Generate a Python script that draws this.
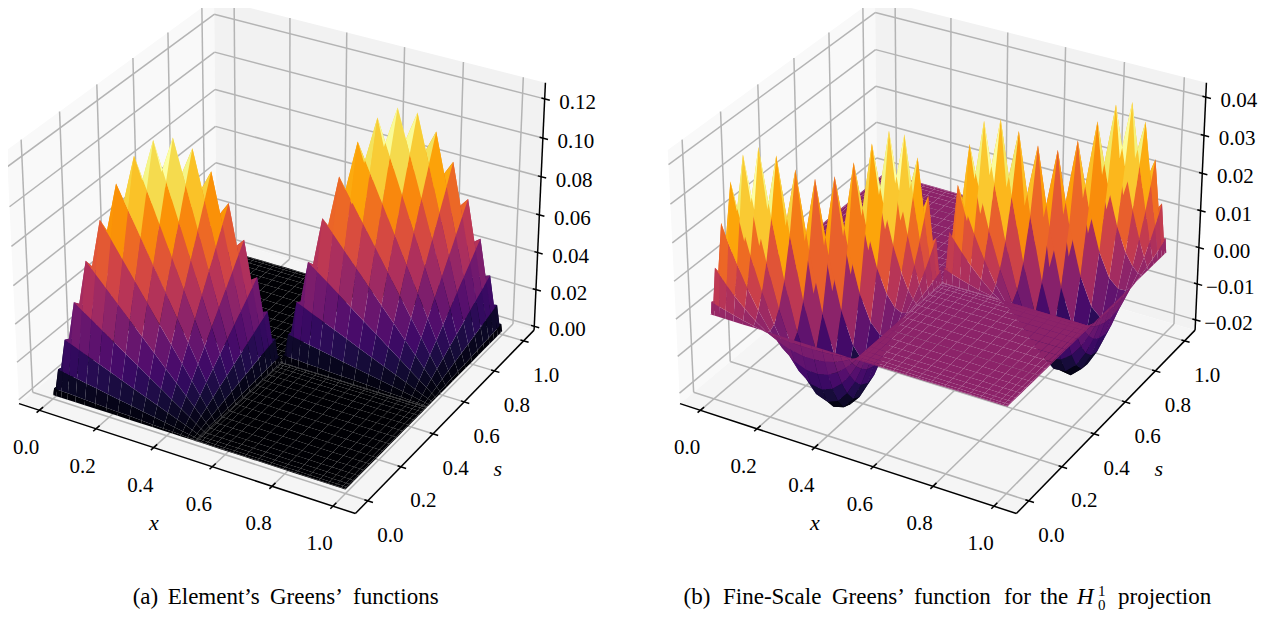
import numpy as np, pandas as pd, altair as alt
alt.data_transformers.disable_max_rows()

# grid nodes inside each element, read along the ridge of each hump
nodes_first = [0,.00341,.01355,.03013,.05272,.08068,.11326,.14958,.18863,.22936,.27064,.31137,.35042,.38674,.41932,.44728,.46987,.48645,.49659,.5]
nodes_second = [0,.0038,.01508,.03349,.05849,.0893,.125,.1645,.20659,.25,.29341,.3355,.375,.4107,.44151,.46651,.48492,.4962,.5]

# heights of each element's hump, in units of 1e-4 (rest follows from the two symmetries of the picture)
left_first = [
 [0,0,0,0,0,0,0,0,0,0,0,0,0,0,0,0,0,0,0,0],
 [34,33,32,31,29,26,24,21,18,16,13,10,8,6,4,2,1,0],
 [132,127,121,114,105,95,84,73,62,51,41,31,22,14,8,4],
 [283,270,253,233,211,188,163,138,114,90,68,49,32,18],
 [472,442,408,369,328,285,242,199,158,119,85,56],
 [677,624,565,502,437,370,304,241,183,130],
 [876,794,705,613,520,427,339,257],
 [1048,931,810,686,564,447],
 [1175,1021,865,712],
 [1241,1052],
]
left_second = [
 [0,0,0,0,0,0,0,0,0,0,0,0,0,0,0,0,0,0,0],
 [38,37,35,34,31,28,25,22,19,16,13,10,7,4,3,1,0],
 [146,141,133,124,113,101,88,75,62,50,38,27,18,10,5],
 [312,296,275,251,225,197,167,138,110,84,60,39,22],
 [516,480,439,392,343,292,242,192,146,104,68],
 [734,670,599,524,446,369,294,223,159],
 [938,839,734,625,516,411,312],
 [1104,965,822,680,541],
 [1212,1033,854],
 [1250],
]
right_first = [
 [0,0,0,0,0,0,0,0,0,0,0,0,0,0,0,0,0,0,0,0],
 [33,30,26,21,15,9,3,-3,-7,-10,-11,-11,-10,-8,-6,-4,-2,0],
 [121,105,84,60,36,12,-9,-25,-36,-42,-42,-39,-32,-23,-14,-7],
 [235,189,138,84,33,-12,-48,-73,-86,-88,-81,-66,-48,-30],
 [338,251,160,73,-4,-66,-109,-134,-139,-128,-106,-78],
 [402,268,140,26,-67,-134,-173,-184,-173,-144],
 [416,243,88,-40,-133,-190,-212,-204],
 [389,193,29,-95,-175,-212],
 [347,146,-10,-116],
 [317,127],
]
right_second = [
 [0,0,0,0,0,0,0,0,0,0,0,0,0,0,0,0,0,0,0],
 [37,34,28,22,15,7,1,-5,-9,-12,-12,-12,-10,-7,-5,-2,-1],
 [133,113,88,60,31,4,-18,-34,-44,-47,-45,-37,-28,-17,-8],
 [254,199,138,75,18,-31,-67,-89,-97,-92,-78,-58,-36],
 [356,253,148,50,-32,-95,-134,-150,-144,-123,-92],
 [411,257,113,-10,-104,-165,-192,-189,-163],
 [410,218,52,-78,-165,-210,-215],
 [373,162,-5,-123,-190],
 [330,124,-28],
 [312],
]
ticks_xy = [0,.2,.4,.6,.8,1.0]
ticks_left = [0,.02,.04,.06,.08,.10,.12]
ticks_right = [-.02,-.01,0,.01,.02,.03,.04]

def full(rows,n):
    M=np.zeros((n,n))
    for i,r in enumerate(rows):
        for k,v in enumerate(r):
            j=i+k
            M[i,j]=M[j,i]=M[n-1-j,n-1-i]=M[n-1-i,n-1-j]=v*1e-4
    return M

W,H = 1260,608
A = np.array([4,4,3.])*1.8294640721620434/np.sqrt(41)
P = np.array([.4330127,-.75,.5]); U=np.array([.8660254,.5,0]); V=np.array([-.25,.4330127,.8660254])
F = 3237
XL = (-.05,1.05)
EXT = 1.1/48
def proj(x,s,z,zl,O):
    x,s,z = np.asarray(x,float),np.asarray(s,float),np.asarray(z,float)
    Q = [((x-XL[0])/1.1-.5)*A[0], ((s-XL[0])/1.1-.5)*A[1], ((z-zl[0])/(zl[1]-zl[0])-.5)*A[2]]
    xv = U[0]*Q[0]+U[1]*Q[1]; yv = V[0]*Q[0]+V[1]*Q[1]+V[2]*Q[2]
    d = 10-(P[0]*Q[0]+P[1]*Q[1]+P[2]*Q[2])
    return O[0]+F*xv/d-8, O[1]-F*yv/d-8, d

X = lambda f="px": alt.X(f"{f}:Q",scale=alt.Scale(domain=[0,W],nice=False,zero=False),axis=None)
Y = lambda f="py": alt.Y(f"{f}:Q",scale=alt.Scale(domain=[0,H],nice=False,zero=False,reverse=True),axis=None)

def surface(first,second,zl,O):
    a=len(nodes_first); b=len(nodes_second)
    nodes = np.concatenate([np.array(nodes_first),.5+np.array(nodes_second)])
    n=len(nodes)
    Z=np.zeros((n,n)); Z[:a,:a]=full(first,a); Z[a:,a:]=full(second,b)
    out=[];polys=[]
    for i in range(n-1):
        for j in range(n-1):
            ii=[i,i+1,i+1,i]; jj=[j,j,j+1,j+1]
            xs=nodes[ii]; ss=nodes[jj]; zs=Z[ii,jj]
            if xs.max()==xs.min() or ss.max()==ss.min(): continue
            px,py,d=proj(xs,ss,zs,zl,O)
            polys.append((d.mean(),px,py,zs.mean()))
    polys.sort(key=lambda r:-r[0])
    lo=min(p[3] for p in polys); hi=max(p[3] for p in polys)
    for k,(d,px,py,m) in enumerate(polys):
        for v in range(4):
            out.append(dict(id=k,v=v,px=round(float(px[v]),2),py=round(float(py[v]),2),m=round(float((m-lo)/(hi-lo)),4)))
    df=pd.DataFrame(out)
    return alt.Chart(df).mark_line(interpolate="linear-closed",strokeWidth=0).encode(
        x=X(),y=Y(),fill=alt.Fill("m:Q",scale=alt.Scale(scheme="inferno",domain=[0,1]),legend=None),
        detail="id:Q",order="v:Q")

def box(zl,zt,O):
    r=(zl[1]-zl[0])/48
    xa,xb=XL[0]-EXT,XL[1]+EXT; za,zb=zl[0]-r,zl[1]+r
    panes=[("#f9f9f9",[(xa,xa,za),(xa,xb,za),(xa,xb,zb),(xa,xa,zb)]),
           ("#f2f2f2",[(xa,xb,za),(xb,xb,za),(xb,xb,zb),(xa,xb,zb)]),
           ("#f5f5f5",[(xa,xa,za),(xb,xa,za),(xb,xb,za),(xa,xb,za)])]
    layers=[]
    for c,pts in panes:
        a=np.array(pts).T
        px,py,_=proj(a[0],a[1],a[2],zl,O)
        layers.append(alt.Chart(pd.DataFrame(dict(px=px,py=py,v=range(4)))).mark_line(interpolate="linear-closed",strokeWidth=0,fill=c).encode(x=X(),y=Y(),order="v:Q"))
    def seg(lst):
        out=[]
        for p,q in lst:
            a=proj(*p,zl,O);b_=proj(*q,zl,O)
            out.append(dict(px=float(a[0]),py=float(a[1]),px2=float(b_[0]),py2=float(b_[1])))
        return pd.DataFrame(out)
    def rule(lst,c,w):
        return alt.Chart(seg(lst)).mark_rule(color=c,strokeWidth=w).encode(x=X(),y=Y(),x2="px2:Q",y2="py2:Q")
    g=[]
    for v in ticks_xy:
        g+=[((v,xa,za),(v,xb,za)),((v,xb,za),(v,xb,zb)),((xa,v,za),(xb,v,za)),((xa,v,za),(xa,v,zb))]
    for v in zt:
        g+=[((xa,xa,v),(xa,xb,v)),((xa,xb,v),(xb,xb,v))]
    layers.append(rule(g,"#b4b4b4",1.5))
    ax=[((xa,xa,za),(xb,xa,za)),((xb,xa,za),(xb,xb,za)),((xb,xb,za),(xb,xb,zb))]
    for v in ticks_xy:
        ax+=[((v,xa-.015,za),(v,xa+.02,za)),((xb+.017,v,za),(xb-.011,v,za))]
    for v in zt:
        ax+=[((xb+.017,xb,v),(xb-.011,xb,v))]
    layers.append(rule(ax,"#000000",1.5))
    tx=[]
    for v in ticks_xy:
        a=proj(v,xa,za,zl,O); tx.append(dict(px=float(a[0])-13.3,py=float(a[1])+38,label=f"{v:.1f}"))
        a=proj(xb,v,za,zl,O); tx.append(dict(px=float(a[0])+22.5,py=float(a[1])+34.7,label=f"{v:.1f}"))
    for v in zt:
        a=proj(xb,xb,v,zl,O); tx.append(dict(px=float(a[0])+33,py=float(a[1])+4,label=f"{v:.2f}".replace("-","\u2212")))
    layers.append(alt.Chart(pd.DataFrame(tx)).mark_text(font="Liberation Serif",fontSize=21,color="#000000").encode(x=X(),y=Y(),text="label:N"))
    a=proj(.5,xa,za,zl,O); b_=proj(xb,.5,za,zl,O)
    tx2=[dict(px=float(a[0])-29,py=float(a[1])+66,label="x"),dict(px=float(b_[0])+49,py=float(b_[1])+51,label="s")]
    layers.append(alt.Chart(pd.DataFrame(tx2)).mark_text(font="Liberation Serif",fontSize=22,fontStyle="italic",color="#000000").encode(x=X(),y=Y(),text="label:N"))
    return layers

ZLL=(.0005,.1255); ZLR=(-.02155,.04235)
OL=(281.3,243.8); OR=(281.3+661,243.8)
base=604-8
words=[("(a)",132.7),("Element\u2019s",167.7),("Greens\u2019",270),("functions",353),
       ("(b)",683.6),("Fine-Scale",723),("Greens\u2019",832),("function",914),("for",1004),("the",1040),("projection",1118)]
caps=pd.DataFrame([dict(px=p-8,py=base,label=w) for w,p in words])
caption=alt.Chart(caps).mark_text(font="Liberation Serif",fontSize=23,align="left",baseline="alphabetic",color="#000000").encode(x=X(),y=Y(),text="label:N")
Hm=alt.Chart(pd.DataFrame([dict(px=1077-8,py=base,label="H")])).mark_text(font="Liberation Serif",fontSize=23,fontStyle="italic",align="left",baseline="alphabetic",color="#000000").encode(x=X(),y=Y(),text="label:N")
ss=alt.Chart(pd.DataFrame([dict(px=1098-8,py=base-8,label="1"),dict(px=1098-8,py=base+5.5,label="0")])).mark_text(font="Liberation Serif",fontSize=15,align="left",baseline="alphabetic",color="#000000").encode(x=X(),y=Y(),text="label:N")

layers=box(ZLL,ticks_left,OL)+box(ZLR,ticks_right,OR)+[surface(left_first,left_second,ZLL,OL),surface(right_first,right_second,ZLR,OR),caption,Hm,ss]
chart=alt.layer(*layers).properties(width=W,height=H,padding=0,autosize=alt.AutoSizeParams(type="none")).configure_view(stroke=None)
chart.save("out.html",embed_options={"renderer":"svg","actions":False})
